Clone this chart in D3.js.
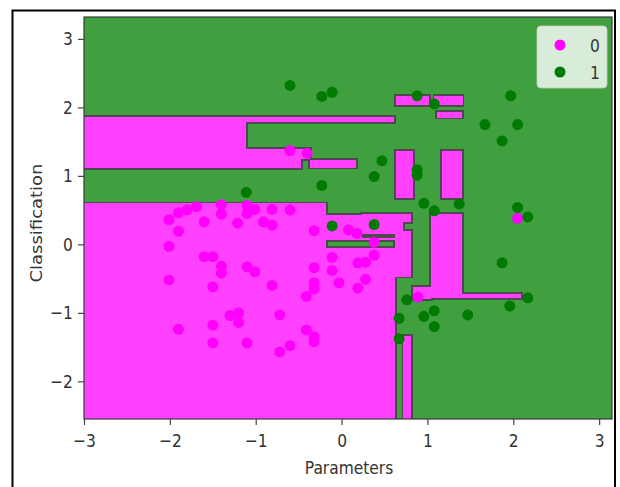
<!DOCTYPE html>
<html>
<head>
<meta charset="utf-8">
<script src="https://cdn.jsdelivr.net/npm/d3@7"></script>
<style>
  body { margin: 0; background: #ffffff; }
  svg { display: block; }
  text { font-family: "DejaVu Sans", sans-serif; }
</style>
</head>
<body>
<svg id="chart" width="620" height="487"></svg>
<script>
// ---------------- data ----------------
const xDomain = [-3.0, 3.15];
const yDomain = [-2.55, 3.32];
const xTicks = [-3, -2, -1, 0, 1, 2, 3];
const yTicks = [-2, -1, 0, 1, 2, 3];
const xLabel = "Parameters";
const yLabel = "Classification";
const classLabels = ["0", "1"];

// decision regions predicted as class 0 (magenta): [x0, x1, y0, y1]
const class0Regions = [
  [-3.00, 0.61, 1.78, 1.86],
  [-3.00, -1.11, 1.11, 1.86],
  [-3.00, -0.47, 1.11, 1.39],
  [-0.47, -0.37, 1.25, 1.39],
  [-0.37, 0.17, 1.12, 1.235],
  [-3.00, -0.18, -2.60, 0.60],
  [-0.18, 0.62, -2.60, -0.055],
  [-0.18, 0.81, 0.065, 0.10],
  [-0.18, 0.24, 0.10, 0.43],
  [0.24, 0.72, 0.145, 0.43],
  [0.24, 0.81, 0.33, 0.44],
  [0.62, 0.81, -0.47, 0.20],
  [0.72, 0.81, -2.60, -1.34],
  [1.04, 1.40, -0.78, 0.44],
  [0.83, 1.04, -0.80, -0.62],
  [1.40, 2.09, -0.78, -0.72],
  [0.635, 0.83, 0.68, 1.36],
  [1.17, 1.40, 0.68, 1.36],
  [0.63, 1.02, 2.03, 2.17],
  [1.08, 1.41, 2.03, 2.17],
  [1.11, 1.40, 1.85, 1.93]
];

// observed points, class 0
const class0X = [-0.60,-0.40,-2.01,-1.90,-1.80,-1.69,-1.90,-1.60,-1.40,-1.40,-1.21,-1.10,-1.10,-1.01,-0.91,-0.81,-0.81,-0.60,-0.32,
  -2.01,-2.01,-1.60,-1.50,-1.40,-1.40,-1.50,-1.10,-1.01,-0.81,-0.32,-0.32,-0.32,-0.41,
  -1.90,-1.50,-1.50,-1.30,-1.20,-1.20,-1.10,-0.72,-0.72,-0.60,-0.41,-0.32,-0.32,
  0.08,0.18,0.38,0.38,-0.11,-0.11,-0.03,0.19,0.28,0.28,0.19,0.89,2.05];
const class0Y = [1.37,1.33,0.36,0.46,0.50,0.55,0.19,0.33,0.58,0.44,0.31,0.57,0.45,0.51,0.33,0.51,0.28,0.50,0.20,
  -0.03,-0.52,-0.18,-0.18,-0.32,-0.42,-0.62,-0.33,-0.40,-0.60,-0.34,-0.56,-0.65,-0.76,
  -1.24,-1.18,-1.44,-1.04,-1.00,-1.14,-1.44,-1.03,-1.57,-1.48,-1.25,-1.35,-1.42,
  0.21,0.16,0.03,-0.16,-0.19,-0.38,-0.56,-0.27,-0.26,-0.51,-0.64,-0.77,0.38];

// observed points, class 1
const class1X = [-0.60,-0.23,-0.11,0.88,1.08,1.67,1.97,2.05,1.87,0.47,0.38,-0.23,-1.11,0.88,0.88,0.96,1.08,1.37,2.05,2.17,
  -0.11,0.38,1.87,0.76,0.67,0.96,1.08,1.08,1.47,1.96,2.17,0.67];
const class1Y = [2.32,2.16,2.22,2.17,2.05,1.75,2.17,1.75,1.51,1.22,0.99,0.86,0.76,1.09,1.01,0.60,0.49,0.59,0.54,0.40,
  0.27,0.29,-0.27,-0.81,-1.08,-1.05,-0.97,-1.20,-1.03,-0.90,-0.78,-1.38];

// ---------------- drawing ----------------
const colors = {
  region0: "#ff40ff", region1: "#40a040",
  point0: "#ff00ff", point1: "#007a00",
  edge: "#4f484f", text: "#333333"
};
const plot = { left: 84, right: 612, top: 17, bottom: 419 };
const squeeze = 0.86;

const svg = d3.select("#chart");
const x = d3.scaleLinear().domain(xDomain).range([plot.left, plot.right]);
const y = d3.scaleLinear().domain(yDomain).range([plot.bottom, plot.top]);

// outer frame
svg.append("rect")
  .attr("x", 12.5).attr("y", 10.5).attr("width", 602.5).attr("height", 500)
  .attr("fill", "none").attr("stroke", "#000").attr("stroke-width", 2);

svg.append("clipPath").attr("id", "plotclip")
  .append("rect")
  .attr("x", plot.left).attr("y", plot.top)
  .attr("width", plot.right - plot.left).attr("height", plot.bottom - plot.top);

// background = class 1 region
svg.append("rect")
  .attr("x", plot.left).attr("y", plot.top)
  .attr("width", plot.right - plot.left).attr("height", plot.bottom - plot.top)
  .attr("fill", colors.region1);

const regionG = svg.append("g").attr("clip-path", "url(#plotclip)");
const rectAttrs = sel => sel
  .attr("x", d => x(d[0]))
  .attr("y", d => y(d[3]))
  .attr("width", d => x(d[1]) - x(d[0]))
  .attr("height", d => y(d[2]) - y(d[3]))
  .attr("shape-rendering", "crispEdges");

regionG.append("g").selectAll("rect").data(class0Regions).join("rect")
  .call(rectAttrs)
  .attr("fill", colors.edge).attr("stroke", colors.edge).attr("stroke-width", 3.5);
regionG.append("g").selectAll("rect").data(class0Regions).join("rect")
  .call(rectAttrs)
  .attr("fill", colors.region0);

// points
const pts0 = class0X.map((v, i) => [v, class0Y[i]]);
const pts1 = class1X.map((v, i) => [v, class1Y[i]]);
const ptG = svg.append("g").attr("clip-path", "url(#plotclip)");
ptG.append("g").selectAll("circle").data(pts0).join("circle")
  .attr("cx", d => x(d[0])).attr("cy", d => y(d[1])).attr("r", 5.5)
  .attr("fill", colors.point0);
ptG.append("g").selectAll("circle").data(pts1).join("circle")
  .attr("cx", d => x(d[0])).attr("cy", d => y(d[1])).attr("r", 5.5)
  .attr("fill", colors.point1);

// plot border
svg.append("rect")
  .attr("x", plot.left).attr("y", plot.top)
  .attr("width", plot.right - plot.left).attr("height", plot.bottom - plot.top)
  .attr("fill", "none").attr("stroke", "#3a3a3a").attr("stroke-width", 1.2);

// axes
const fmt = d => d < 0 ? "\u2212" + Math.abs(d) : String(d);
const xAxis = svg.append("g").attr("transform", `translate(0,${plot.bottom})`)
  .call(d3.axisBottom(x).tickValues(xTicks).tickFormat(fmt).tickSize(6).tickPadding(9));
const yAxis = svg.append("g").attr("transform", `translate(${plot.left},0)`)
  .call(d3.axisLeft(y).tickValues(yTicks).tickFormat(fmt).tickSize(6).tickPadding(7));
[xAxis, yAxis].forEach(a => {
  a.select(".domain").remove();
  a.selectAll(".tick line").attr("stroke", "#444").attr("stroke-width", 1.2);
  a.selectAll(".tick text")
    .attr("fill", colors.text)
    .style("font-size", "18px")
    .style("font-family", "'DejaVu Sans', sans-serif")
    .attr("transform", `scale(${squeeze},1)`);
});

// axis titles
svg.append("text")
  .attr("transform", `translate(${(plot.left + plot.right) / 2 + 1},474) scale(${squeeze},1)`)
  .attr("text-anchor", "middle").attr("fill", colors.text)
  .style("font-size", "18px").text(xLabel);
svg.append("text")
  .attr("transform", `translate(42,223) rotate(-90) scale(1,${squeeze})`)
  .attr("text-anchor", "middle").attr("fill", colors.text)
  .style("font-size", "18px").text(yLabel);

// legend
const leg = svg.append("g");
leg.append("rect")
  .attr("x", 537).attr("y", 26).attr("width", 70).attr("height", 62)
  .attr("rx", 4).attr("fill", "#ffffff").attr("fill-opacity", 0.8)
  .attr("stroke", "#cccccc").attr("stroke-opacity", 0.8);
const legItems = [
  { label: classLabels[0], color: colors.point0, cy: 45 },
  { label: classLabels[1], color: colors.point1, cy: 72 }
];
leg.selectAll("circle").data(legItems).join("circle")
  .attr("cx", 560).attr("cy", d => d.cy).attr("r", 5.5).attr("fill", d => d.color);
leg.selectAll("text").data(legItems).join("text")
  .attr("transform", d => `translate(595,${d.cy + 6.5}) scale(${squeeze},1)`)
  .attr("text-anchor", "middle").attr("fill", colors.text)
  .style("font-size", "18px").text(d => d.label);
</script>
</body>
</html>
